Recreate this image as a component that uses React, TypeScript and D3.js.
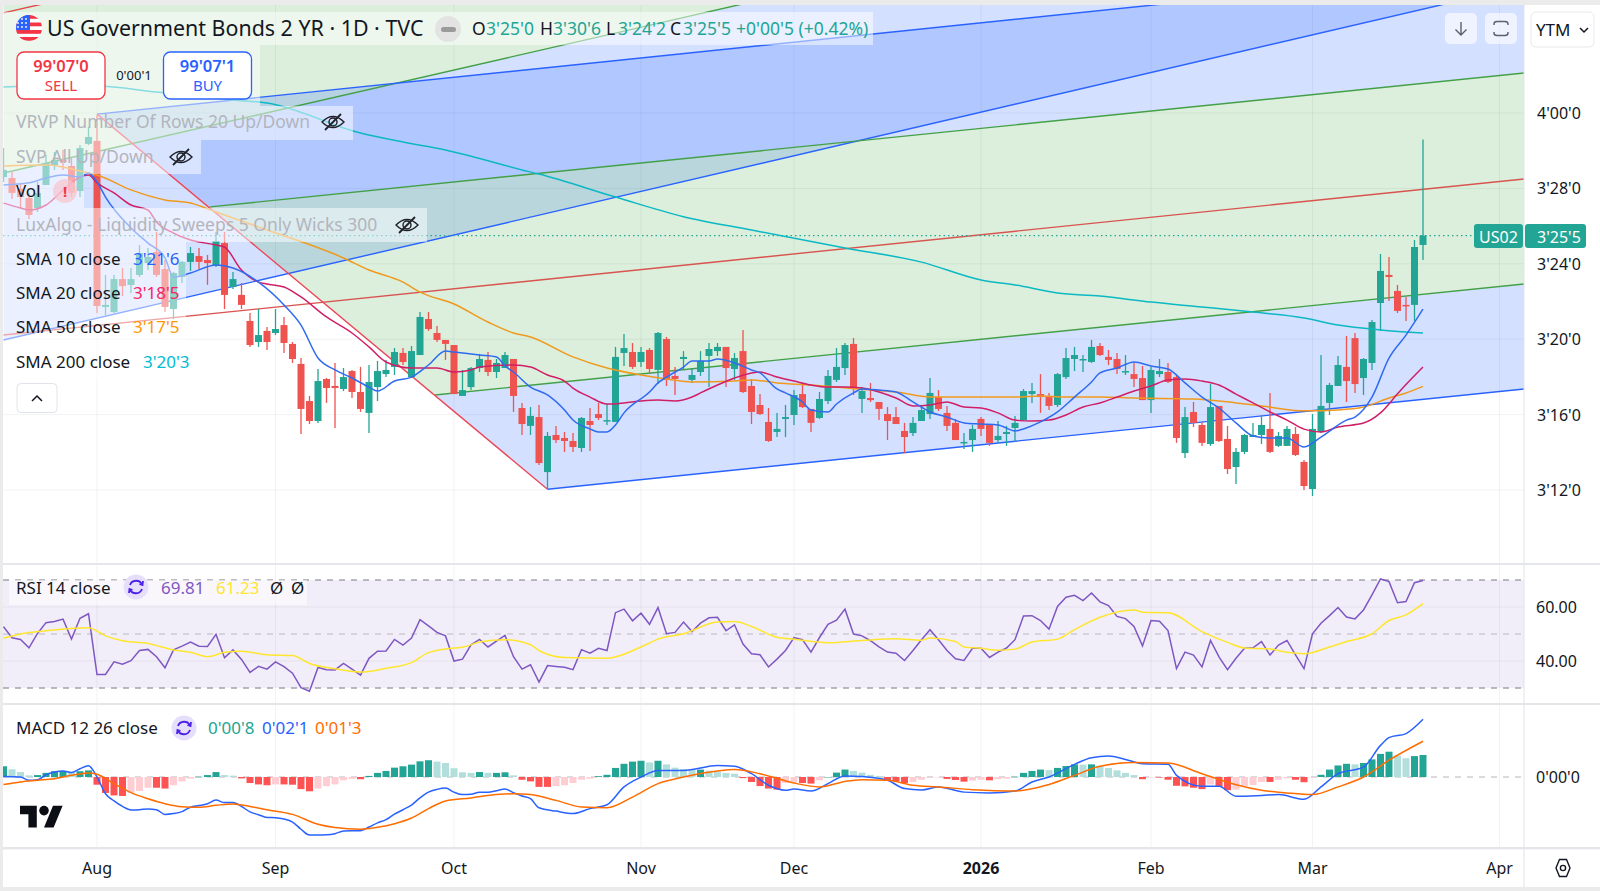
import React from 'react';
import * as d3 from 'd3';

// prices are in 32nds above 3, so 25.5 reads 3'25'5
const opens = [
  28.60,28.55,27.97,27.49,26.96,28.18,29.24,29.51,29.19,27.86,
  30.36,30.52,21.71,21.44,23.19,22.88,23.41,24.04,24.63,23.72,
  21.60,23.30,24.10,24.41,24.20,23.94,25.10,22.77,22.35,20.97,
  19.85,20.44,20.33,20.75,19.75,18.69,16.72,15.66,17.89,17.52,
  17.36,18.31,17.20,16.09,17.46,18.15,18.53,19.27,17.99,19.16,
  21.07,20.33,19.96,19.69,16.99,17.46,18.47,18.90,18.26,18.47,
  18.95,16.35,15.40,15.87,12.95,14.92,14.76,14.60,14.23,15.66,
  16.03,15.66,15.61,19.27,19.32,18.79,19.43,18.37,20.01,18.05,
  18.95,17.84,18.26,19.11,19.37,19.59,18.42,19.37,17.52,16.51,
  15.61,15.08,15.77,15.98,17.09,16.30,15.82,16.72,17.84,18.47,
  19.75,16.83,16.88,16.67,16.03,15.87,15.13,15.02,15.66,16.03,
  16.93,16.09,15.56,14.50,14.65,15.77,15.45,14.65,14.97,15.29,
  15.71,17.09,17.09,16.93,16.51,17.99,18.95,18.90,18.79,19.64,
  19.06,18.95,18.26,18.15,17.94,16.77,18.15,18.26,17.99,13.96,
  16.14,15.45,14.44,16.46,14.71,13.22,14.02,14.81,14.92,15.24,
  14.34,14.34,14.97,13.49,12.05,15.08,16.62,17.52,18.53,20.06,
  17.94,18.74,21.92,23.41,22.56,21.82,21.82,25.0,
];
const highs = [
  30.14,28.87,28.29,27.76,28.34,29.77,29.93,30.04,29.67,30.30,
  31.26,31.89,23.41,23.41,23.78,23.78,25.00,24.84,25.69,24.20,
  23.57,24.15,24.89,24.84,24.47,25.69,25.69,23.57,22.98,21.39,
  21.60,20.65,21.60,21.18,19.85,19.00,16.99,18.42,17.94,18.74,
  18.47,18.37,18.53,18.63,18.85,18.90,19.53,19.53,19.64,21.44,
  21.44,20.70,19.96,19.69,18.37,18.53,19.22,19.32,18.95,19.32,
  18.95,16.62,16.40,16.51,15.08,15.40,15.08,15.02,15.87,16.35,
  16.62,16.56,19.59,20.28,19.80,19.59,19.53,20.38,20.12,18.53,
  19.37,18.47,19.37,19.80,19.80,19.59,19.27,20.49,17.89,17.09,
  16.35,16.09,16.51,17.30,17.62,16.30,17.20,18.37,19.53,19.80,
  20.06,17.46,17.68,16.67,16.40,16.40,15.56,15.87,16.51,17.94,
  17.30,16.46,15.77,15.02,15.45,15.87,15.45,15.66,15.40,15.92,
  17.36,17.68,18.15,17.15,18.21,19.53,19.59,19.16,19.96,19.80,
  19.43,19.27,19.16,18.74,18.58,18.53,18.95,18.74,18.10,16.40,
  16.67,15.61,17.62,16.46,15.40,14.23,14.97,15.56,15.92,17.15,
  15.08,15.40,15.34,13.59,16.03,19.16,17.68,19.11,20.17,20.33,
  19.00,21.02,24.52,24.36,22.88,22.24,25.26,30.6,
];
const lows = [
  28.34,27.44,26.96,26.38,26.75,28.18,28.98,28.98,27.54,27.54,
  30.30,21.39,21.28,21.39,22.29,22.45,23.30,23.67,23.30,21.44,
  21.07,22.98,23.62,23.72,22.88,23.83,21.60,22.66,21.60,19.59,
  19.59,19.43,20.22,19.27,18.74,14.97,15.50,15.56,16.62,15.29,
  17.25,16.88,16.14,15.02,16.72,17.99,18.10,18.63,17.94,19.16,
  20.44,19.85,18.90,17.09,16.99,17.30,18.26,18.05,17.94,18.47,
  16.14,14.92,14.92,13.33,12.05,14.50,14.02,14.02,14.02,14.07,
  15.71,15.45,15.61,18.58,18.42,18.53,18.21,17.62,17.52,17.04,
  18.37,17.68,18.05,17.46,19.11,17.46,17.84,17.15,15.50,15.98,
  14.55,14.81,14.81,15.45,16.35,15.08,15.77,16.56,17.73,18.10,
  17.04,16.09,16.67,15.71,14.65,15.50,13.96,14.87,15.66,15.77,
  16.19,15.13,14.65,14.18,14.02,14.87,14.34,14.50,14.34,14.55,
  15.66,16.62,16.09,16.24,16.40,17.89,18.31,18.26,18.74,19.11,
  18.63,18.15,18.10,17.46,16.77,16.09,17.99,17.68,14.50,13.70,
  15.34,14.34,14.34,14.55,12.85,12.32,13.91,14.81,14.44,13.96,
  14.28,14.34,13.80,12.00,11.68,15.02,15.98,17.52,16.67,17.15,
  17.04,18.37,20.43,22.03,21.39,20.97,20.97,24.2,
];
const closes = [
  28.98,27.76,27.54,26.59,27.76,29.35,29.51,29.40,27.76,30.14,
  30.73,21.76,21.82,23.19,22.82,23.19,24.57,24.36,23.41,21.71,
  23.51,24.10,24.57,24.10,24.04,25.21,22.35,23.19,21.82,19.69,
  20.22,19.85,20.54,19.80,18.95,16.30,15.66,17.78,17.41,17.41,
  17.99,17.20,16.30,17.73,18.31,18.37,19.32,18.79,19.37,21.18,
  20.54,19.96,19.75,17.09,17.30,18.47,18.95,18.26,18.74,19.16,
  16.99,15.50,15.93,13.43,14.87,14.65,14.60,14.28,15.82,15.45,
  15.82,15.71,19.06,19.53,18.53,19.32,18.42,20.33,17.84,17.89,
  19.06,18.10,18.84,19.48,19.59,18.47,19.00,17.20,16.14,16.03,
  14.60,15.24,15.87,17.04,16.40,15.56,16.83,18.05,18.53,19.69,
  17.36,17.25,16.77,16.30,15.66,15.50,14.81,15.56,16.24,17.15,
  16.30,15.40,14.65,14.55,15.24,15.24,14.50,14.87,15.08,15.56,
  17.25,17.25,16.93,16.46,18.15,19.00,19.16,18.95,19.59,19.16,
  18.90,18.42,18.31,17.89,16.77,18.37,18.31,17.73,14.76,15.87,
  15.56,14.50,16.40,14.60,13.11,14.02,14.92,14.92,15.45,14.02,
  14.87,15.24,13.86,12.21,15.24,16.46,17.57,18.63,17.78,17.62,
  18.95,20.91,23.62,23.30,21.50,21.76,24.89,25.5,
];

// as [bar, value]
const sma10 = [
  [0,28.18],[3,28.3],[5,28.55],[7,28.71],[9,28.60],[10,28.82],[11,28.34],[12,27.54],[15,25.9],[17,25.10],[19,24.31],[20,23.30],
  [22,23.51],[25,23.94],[27,23.78],[30,23.03],[33,21.82],[35,20.75],[37,19.0],[39,18.37],[41,17.94],[43,17.46],[44,17.25],
  [46,17.78],[48,17.99],[50,18.63],[52,19.37],[53,19.32],[56,19.16],[58,19.06],[59,18.58],[60,18.26],[62,17.46],[64,17.04],
  [66,16.24],[67,15.71],[69,15.24],[70,15.08],[71,15.08],[72,15.45],[73,16.09],[76,17.20],[77,17.68],[78,17.99],[80,18.52],
  [81,18.84],[83,18.84],[84,18.95],[86,18.74],[88,18.37],[89,18.21],[91,17.36],[92,17.15],[94,16.67],[95,16.24],[97,16.14],
  [98,16.56],[100,17.15],[101,17.36],[103,17.30],[105,17.20],[107,16.67],[109,16.14],[111,15.87],[113,15.56],[115,15.50],
  [117,15.45],[119,15.13],[120,15.24],[122,15.61],[124,16.14],[126,16.93],[128,17.73],[129,18.21],[131,18.47],[133,18.79],
  [135,18.58],[137,18.42],[139,17.68],[141,16.93],[143,16.35],[145,15.56],[147,14.87],[149,14.76],[151,14.76],[153,14.28],
  [155,14.81],[158,15.71],[159,15.87],[161,16.93],[163,19.0],[165,20.22],[167,21.6],
];
const sma20 = [
  [0,27.22],[2,26.96],[3,26.85],[5,27.12],[7,27.9],[9,28.6],[10,28.71],[11,28.29],[13,27.76],[15,27.12],[17,26.85],[18,26.22],
  [20,25.63],[22,25.26],[25,25.0],[26,24.89],[28,23.67],[30,23.03],[31,22.93],[33,22.77],[35,22.24],[38,21.18],[41,20.33],
  [43,19.59],[45,18.79],[48,18.47],[51,18.47],[53,18.26],[55,18.37],[56,18.52],[60,18.63],[62,18.52],[64,18.10],[66,17.78],
  [67,17.41],[69,16.93],[71,16.56],[73,16.62],[75,16.72],[77,16.77],[79,16.72],[81,16.93],[82,17.15],[84,17.57],[86,17.94],
  [88,18.21],[89,18.26],[91,17.99],[93,17.78],[95,17.57],[97,17.46],[99,17.46],[101,17.41],[103,17.20],[105,16.88],[107,16.46],
  [109,16.51],[111,16.67],[113,16.40],[115,16.35],[117,16.09],[119,15.71],[121,15.66],[123,15.71],[125,15.98],[127,16.40],
  [129,16.62],[131,16.93],[133,17.25],[135,17.52],[137,17.84],[139,17.89],[141,17.78],[143,17.57],[145,17.09],[147,16.62],
  [149,16.14],[151,15.71],[153,15.23],[155,15.08],[157,15.34],[160,15.55],[162,16.09],[164,17.10],[165,17.6],[167,18.53],
];
const sma50 = [
  [0,29.19],[5,29.24],[10,28.82],[11,28.71],[15,27.92],[19,27.39],[22,27.22],[25,26.75],[30,25.95],[40,24.31],[43,23.67],
  [47,23.03],[49,22.5],[53,21.87],[57,20.91],[60,20.33],[62,20.12],[67,19.06],[71,18.47],[75,18.1],[78,17.89],[81,17.73],
  [86,17.78],[88,17.84],[91,17.68],[95,17.57],[98,17.46],[102,17.30],[105,17.2],[109,16.93],[112,16.93],[119,16.93],[122,16.99],
  [125,16.93],[129,16.93],[133,16.88],[140,16.83],[145,16.62],[148,16.46],[153,16.2],[157,16.25],[160,16.40],[163,16.88],
  [165,17.15],[167,17.5],
];
const sma200 = [
  [0,33.38],[5,33.43],[11,33.43],[18,33.11],[27,32.69],[31,32.53],[42,30.94],[47,30.46],[52,30.04],[61,28.98],[63,28.76],[72,27.54],
  [80,26.5],[88,25.79],[99,24.84],[108,24.09],[115,23.14],[119,22.88],[124,22.45],[129,22.29],[135,21.97],[141,21.71],[147,21.44],
  [153,21.13],[157,20.75],[162,20.49],[167,20.33],
];

const rsi = [
  52.7,48.6,48.0,44.9,50.2,54.2,54.6,55.5,48.1,55.8,57.5,35.0,35.0,39.7,38.8,40.1,43.9,44.3,41.6,37.5,
  44.1,45.5,47.0,45.5,45.4,49.9,41.2,44.1,40.6,35.8,38.0,37.0,39.7,37.9,35.5,30.1,28.8,37.6,36.8,36.7,
  39.1,37.0,34.8,41.0,43.6,43.7,48.0,45.9,48.5,55.3,53.0,50.6,49.3,40.0,40.7,46.0,48.0,45.2,47.4,49.5,
  41.6,37.0,38.6,32.2,38.3,38.0,37.7,36.8,44.2,42.9,44.7,43.9,57.9,59.2,54.9,57.7,53.6,59.8,50.1,50.6,
  54.4,50.9,54.0,56.0,56.2,51.2,53.4,46.3,42.7,42.3,37.8,40.7,43.9,48.7,47.9,43.3,48.7,53.6,55.1,59.2,
  50.0,49.3,47.5,45.2,43.3,42.9,40.2,43.9,47.9,51.6,47.9,43.9,40.8,40.2,44.7,44.7,41.3,43.3,44.8,47.9,
  56.7,56.8,55.0,51.8,60.2,63.6,64.3,62.4,65.2,61.9,60.5,56.5,55.7,52.8,45.6,55.0,54.7,51.3,37.2,43.3,
  42.2,37.8,47.6,41.5,36.8,41.0,44.7,44.9,47.2,42.2,45.9,47.6,42.3,37.2,50.1,54.0,56.8,59.8,56.3,55.6,
  58.9,64.5,70.4,69.4,61.6,62.0,69.0,69.81,
];
const rsiMa = [
  [0,48.4],[2,50.0],[5,51.2],[10,52.3],[12,49.3],[14,47.5],[17,46.5],[20,44.1],[22,43.2],[24,41.6],[26,43.2],[28,43.6],[31,42.3],
  [34,42.0],[36,39.1],[39,37.1],[42,35.9],[45,37.3],[48,39.4],[50,43.1],[53,44.8],[54,45.1],[56,47.0],[59,47.9],[62,46.0],[63,43.9],
  [66,41.3],[71,41.0],[75,45.2],[77,48.1],[80,50.1],[84,54.4],[86,54.6],[88,52.8],[91,48.8],[93,48.1],[97,46.8],[101,47.6],[105,48.2],
  [108,47.7],[109,48.5],[112,47.2],[113,45.2],[115,44.7],[117,44.0],[119,44.4],[121,47.0],[124,48.1],[126,51.6],[129,56.2],[133,58.9],
  [134,58.1],[137,57.9],[141,50.9],[144,46.9],[146,44.8],[149,44.4],[151,43.2],[153,42.7],[156,45.2],[158,47.2],[161,50.1],[163,55],
  [165,57.1],[167,61.23],
];

const macdHist = [
  .39,.28,.18,.06,.07,.15,.21,.22,.16,.21,.24,-.28,-.58,-.67,-.69,-.57,-.51,-.39,-.39,-.42,
  -.30,-.16,-.06,.01,.07,.18,.07,.05,-.05,-.22,-.27,-.30,-.27,-.27,-.28,-.44,-.52,-.42,-.33,-.27,
  -.12,-.07,-.08,.04,.15,.22,.34,.39,.45,.57,.61,.56,.51,.32,.17,.15,.18,.15,.15,.17,
  .06,-.10,-.16,-.36,-.36,-.33,-.30,-.22,-.10,-.06,.03,.08,.33,.48,.56,.59,.53,.59,.46,.34,
  .29,.27,.27,.23,.18,.15,.12,-.04,-.18,-.33,-.42,-.46,-.22,-.18,-.22,-.24,-.12,0,.16,.27,
  .22,.16,.08,.04,-.12,-.15,-.22,-.18,-.10,-.02,-.01,-.07,-.11,-.17,-.13,-.10,-.12,-.08,-.06,.01,
  .15,.22,.27,.25,.33,.40,.46,.45,.46,.39,.33,.24,.15,.07,-.08,-.01,-.02,-.10,-.32,-.34,
  -.39,-.44,-.27,-.36,-.48,-.46,-.32,-.29,-.18,-.18,-.10,-.05,-.10,-.19,-.01,.08,.27,.42,.48,.46,
  .51,.64,.84,.92,.78,.68,.76,.80,
];
const macdLine = [
  [0,.02],[2,0],[3,-.12],[4,-.10],[5,.08],[6,.18],[7,.22],[8,.16],[9,.30],[10,.41],[11,0],[12,-.61],[13,-.87],[14,-1.07],[15,-1.20],
  [16,-1.19],[17,-1.16],[18,-1.19],[19,-1.36],[20,-1.33],[21,-1.26],[22,-1.10],[23,-1.04],[24,-.97],[25,-.84],[26,-.93],[27,-.93],
  [28,-1.07],[29,-1.27],[30,-1.37],[31,-1.47],[32,-1.48],[33,-1.53],[34,-1.64],[35,-1.90],[36,-2.11],[37,-2.11],[38,-2.10],[39,-2.06],
  [40,-1.96],[41,-1.95],[42,-1.95],[43,-1.82],[44,-1.67],[45,-1.55],[46,-1.35],[47,-1.19],[48,-1.02],[49,-.76],[50,-.55],[51,-.45],
  [52,-.40],[53,-.55],[54,-.64],[55,-.63],[56,-.55],[57,-.55],[58,-.50],[59,-.44],[60,-.57],[61,-.69],[62,-.79],[63,-1.12],[65,-1.24],
  [67,-1.33],[69,-1.15],[71,-1.01],[73,-.36],[75,0],[77,.24],[80,.24],[84,.42],[86,.39],[88,.12],[90,-.30],[92,-.48],[93,-.44],[95,-.51],
  [97,-.24],[99,.04],[101,.02],[104,-.12],[106,-.42],[108,-.47],[110,-.36],[113,-.55],[116,-.58],[119,-.51],[121,-.18],[123,0],[126,.46],
  [128,.70],[130,.76],[132,.64],[134,.48],[137,.46],[138,.06],[141,-.34],[143,-.34],[145,-.70],[148,-.67],[150,-.64],[153,-.81],[155,-.36],
  [157,.12],[160,.36],[162,1.15],[163,1.43],[165,1.58],[167,2.1],
];
const macdSignal = [
  [0,-.27],[2,-.18],[4,-.12],[6,-.06],[8,.06],[10,.15],[11,.10],[13,-.24],[15,-.57],[17,-.79],[19,-.97],[21,-1.08],[23,-1.10],[25,-1.03],
  [27,-.98],[29,-1.07],[31,-1.19],[34,-1.36],[37,-1.72],[39,-1.84],[42,-1.90],[44,-1.83],[46,-1.70],[48,-1.49],[50,-1.15],[52,-.87],[55,-.76],
  [58,-.64],[60,-.61],[62,-.64],[65,-.85],[68,-1.09],[71,-1.12],[74,-.73],[77,-.24],[80,0],[84,.22],[86,.27],[89,.12],[93,-.22],[96,-.36],
  [99,-.16],[101,-.10],[104,-.12],[107,-.30],[110,-.36],[114,-.46],[119,-.51],[123,-.27],[126,.06],[129,.39],[133,.53],[137,.51],[141,.12],
  [145,-.28],[148,-.48],[151,-.58],[154,-.64],[157,-.36],[160,0],[163,.61],[167,1.3],
];

// drawn tools, as [bar, price]
const forkTop = [[11,31.94],[178.9,39.76]];
const forkInnerUp = [[24.3,27.02],[178.9,34.12]];
const forkMedian = [[0,20.22],[178.9,28.5]];
const forkInnerDown = [[50.76,17.04],[178.9,22.93]];
const forkBottom = [[64,12.04],[178.9,17.36]];
const forkHandle = [[11,31.94],[64,12.04]];
const steepLow = [[0,19.96],[178.9,38.76]];
const steepInner = [[0,28.82],[178.9,47.26]];
const steepMedian = [[0,37.31],[178.9,55.76]];
const steepCeiling = [[178.9,70],[0,70]];

const priceTicks = [12,16,20,24,28,32];
const priceLabels = ["3'12'0","3'16'0","3'20'0","3'24'0","3'28'0","4'00'0"];
const rsiTicks = [60,40];
const rsiBands = [70,50,30];
const monthBars = [11,32,53,75,93,115,135,154,176];
const monthLabels = ['Aug','Sep','Oct','Nov','Dec','2026','Feb','Mar','Apr'];

const font = '"Noto Sans", sans-serif';
const UP = '#22a594';
const DOWN = '#ef5350';
const BLUE = '#2962ff';
const GREEN = '#4caf50';
const PANE_R = 1524;

const x = d3.scaleLinear().domain([0, 176]).range([3.5, 1499.5]);
const y = d3.scaleLinear().domain([12, 32]).range([490, 113]);
const yRsi = d3.scaleLinear().domain([30, 70]).range([688, 580]);
const yMacd = d3.scaleLinear().domain([0, 1]).range([777, 749.5]);

const priceLine = d3.line<number[]>().x(d => x(d[0])).y(d => y(d[1]));
const smaLine = d3.line<number[]>().x(d => x(d[0])).y(d => y(d[1])).curve(d3.curveMonotoneX);
const rsiLine = d3.line<number[]>().x(d => x(d[0])).y(d => yRsi(d[1]));
const rsiMaLine = d3.line<number[]>().x(d => x(d[0])).y(d => yRsi(d[1])).curve(d3.curveMonotoneX);
const macdPath = d3.line<number[]>().x(d => x(d[0])).y(d => yMacd(d[1])).curve(d3.curveMonotoneX);

const band = (a: number[][], b: number[][]) => priceLine([...a, ...[...b].reverse()]) + 'Z';

const EyeOff = ({ cx, cy }: { cx: number; cy: number }) => (
  <g transform={`translate(${cx},${cy})`} fill="none" stroke="#1f2128" strokeWidth={1.4}>
    <path d="M-11,0 Q0,-11 11,0 Q0,11 -11,0Z" />
    <circle r={4} />
    <path d="M-8,8 L8,-8" strokeWidth={1.8} />
  </g>
);

const Refresh = ({ cx, cy }: { cx: number; cy: number }) => (
  <g transform={`translate(${cx},${cy})`}>
    <circle r={12.5} fill="#e6dffb" />
    <g fill="none" stroke="#4a1fe8" strokeWidth={1.8}>
      <path d="M-6,-2 A6.5,6.5 0 0 1 6,-2.5" />
      <path d="M6,2 A6.5,6.5 0 0 1 -6,2.5" />
      <path d="M3.5,-3 L6.5,-2 L7,-6" />
      <path d="M-3.5,3 L-6.5,2 L-7,6" />
    </g>
  </g>
);

const LegendRow = ({ label, value, color, vx, base }: { label: string; value: string; color: string; vx: number; base: number }) => (
  <g fontSize={17}>
    <text x={16} y={base} fill="#131722">{label}</text>
    <text x={vx} y={base} fill={color}>{value}</text>
  </g>
);

export default function App() {
  const bars = d3.range(opens.length);
  return (
    <svg width={1600} height={891} style={{ position: 'absolute', left: 0, top: 0, background: '#fff' }} fontFamily={font}>
      <defs>
        <clipPath id="pane"><rect x={3} y={5} width={PANE_R - 3} height={559} /></clipPath>
        <clipPath id="low"><rect x={3} y={564} width={PANE_R - 3} height={284} /></clipPath>
      </defs>

      <g clipPath="url(#pane)">
        <path d={band(steepLow, steepInner)} fill={BLUE} fillOpacity={0.2} />
        <path d={priceLine([...steepInner, ...steepCeiling]) + 'Z'} fill={GREEN} fillOpacity={0.2} />
        <path d={band(forkTop, forkInnerUp)} fill={BLUE} fillOpacity={0.2} />
        <path d={band(forkInnerUp, forkInnerDown)} fill={GREEN} fillOpacity={0.2} />
        <path d={band(forkInnerDown, forkBottom)} fill={BLUE} fillOpacity={0.2} />

        {priceTicks.map(t => <line key={t} x1={3} x2={PANE_R} y1={y(t)} y2={y(t)} stroke="#2a2e39" strokeOpacity={0.06} />)}
        {monthBars.map(b => <line key={b} x1={x(b)} x2={x(b)} y1={5} y2={564} stroke="#2a2e39" strokeOpacity={0.06} />)}

        <g fill="none" strokeWidth={1.4}>
          <path d={priceLine(steepLow)!} stroke={BLUE} />
          <path d={priceLine(steepInner)!} stroke="#43a047" />
          <path d={priceLine(steepMedian)!} stroke="#e0474c" />
          <path d={priceLine(forkTop)!} stroke={BLUE} />
          <path d={priceLine(forkInnerUp)!} stroke="#43a047" />
          <path d={priceLine(forkMedian)!} stroke="#d9534f" />
          <path d={priceLine(forkInnerDown)!} stroke="#43a047" />
          <path d={priceLine(forkBottom)!} stroke={BLUE} />
          <path d={priceLine(forkHandle)!} stroke="#e8495a" />
        </g>

        <line x1={3} x2={1474} y1={y(closes[closes.length - 1])} y2={y(closes[closes.length - 1])} stroke={UP} strokeDasharray="1.5 3" strokeWidth={1.2} />

        {bars.map(i => {
          const up = closes[i] >= opens[i];
          const c = up ? UP : DOWN;
          const top = y(Math.max(opens[i], closes[i]));
          const bot = y(Math.min(opens[i], closes[i]));
          return (
            <g key={i}>
              <line x1={x(i)} x2={x(i)} y1={y(highs[i])} y2={y(lows[i])} stroke={c} strokeWidth={1.3} />
              <rect x={x(i) - 3.5} y={top} width={7} height={Math.max(bot - top, 1.5)} fill={c} />
            </g>
          );
        })}

        <g fill="none" strokeWidth={1.5} strokeLinejoin="round">
          <path d={smaLine(sma200)!} stroke="#0cb8c4" />
          <path d={smaLine(sma50)!} stroke="#ef9a1e" />
          <path d={smaLine(sma20)!} stroke="#d01f66" />
          <path d={smaLine(sma10)!} stroke="#2f6bf0" />
        </g>
      </g>

      {/* legend backing, the chart shows through it */}
      <g fill="#fff" fillOpacity={0.5}>
        <rect x={3} y={12} width={870} height={33} />
        <rect x={3} y={45} width={257} height={61} />
        <rect x={3} y={106} width={350} height={34} />
        <rect x={3} y={140} width={198} height={34} />
        <rect x={3} y={174} width={81} height={34} />
        <rect x={3} y={208} width={424} height={34} />
        <rect x={3} y={242} width={183} height={34} />
        <rect x={3} y={276} width={183} height={34} />
        <rect x={3} y={310} width={183} height={34} />
        <rect x={3} y={344} width={192} height={34} />
      </g>

      {/* flag */}
      <g>
        <clipPath id="flag"><circle cx={29} cy={28} r={13} /></clipPath>
        <g clipPath="url(#flag)">
          <rect x={16} y={15} width={26} height={26} fill="#fff" />
          {[15, 22.5, 30, 37].map(s => <rect key={s} x={16} y={s} width={26} height={3.8} fill="#f23645" />)}
          <rect x={16} y={15} width={14} height={15} fill="#2962ff" />
          {[19, 23, 27].flatMap(a => [18, 22, 26].map(b => <circle key={`${a}${b}`} cx={b} cy={a} r={0.9} fill="#fff" />))}
        </g>
      </g>
      <text x={47} y={36} fontSize={21.4} fill="#131722">US Government Bonds 2 YR · 1D · TVC</text>
      <circle cx={448} cy={29} r={13} fill="#e3e3e3" />
      <rect x={441} y={27} width={15} height={5} rx={2.5} fill="#9a9a9a" />
      <g fontSize={17.5}>
        <text x={472} y={35} fill="#131722">O</text><text x={486} y={35} fill={UP}>3'25'0</text>
        <text x={540} y={35} fill="#131722">H</text><text x={553} y={35} fill={UP}>3'30'6</text>
        <text x={606} y={35} fill="#131722">L</text><text x={618} y={35} fill={UP}>3'24'2</text>
        <text x={670} y={35} fill="#131722">C</text><text x={683} y={35} fill={UP}>3'25'5</text>
        <text x={736} y={35} fill={UP}>+0'00'5 (+0.42%)</text>
      </g>

      {/* sell and buy */}
      <rect x={17} y={52} width={88} height={47} rx={7} fill="#fff" stroke="#f23645" strokeWidth={1.3} />
      <rect x={163.5} y={52} width={88} height={47} rx={7} fill="#fff" stroke="#2962ff" strokeWidth={1.3} />
      <g textAnchor="middle">
        <text x={61} y={72} fontSize={16.5} fontWeight={600} fill="#f23645">99'07'0</text>
        <text x={61} y={91} fontSize={15} fill="#f23645">SELL</text>
        <text x={134} y={80} fontSize={13} fill="#131722">0'00'1</text>
        <text x={207.5} y={72} fontSize={16.5} fontWeight={600} fill="#2962ff">99'07'1</text>
        <text x={207.5} y={91} fontSize={15} fill="#2962ff">BUY</text>
      </g>

      <g fontSize={17.5} fill="#b2b5be">
        <text x={16} y={128}>VRVP Number Of Rows 20 Up/Down</text>
        <text x={16} y={163}>SVP All Up/Down</text>
        <text x={16} y={231}>LuxAlgo - Liquidity Sweeps 5 Only Wicks 300</text>
      </g>
      <EyeOff cx={333} cy={122} />
      <EyeOff cx={181} cy={157} />
      <EyeOff cx={407} cy={225} />
      <text x={16} y={197} fontSize={17} fill="#131722">Vol</text>
      <circle cx={65} cy={191} r={12} fill="#f7c5cf" fillOpacity={0.7} />
      <text x={65} y={197} fontSize={15} fontWeight={700} textAnchor="middle" fill="#f23645">!</text>

      <LegendRow label="SMA 10 close" value="3'21'6" color="#2962ff" vx={133} base={265} />
      <LegendRow label="SMA 20 close" value="3'18'5" color="#f7245f" vx={133} base={299} />
      <LegendRow label="SMA 50 close" value="3'17'5" color="#ff9800" vx={133} base={333} />
      <LegendRow label="SMA 200 close" value="3'20'3" color="#00bcd4" vx={143} base={368} />

      <rect x={17} y={383.5} width={40} height={29} rx={4} fill="#fff" stroke="#e0e3eb" />
      <path d="M32,401 L37,396 L42,401" fill="none" stroke="#131722" strokeWidth={1.5} />

      {/* top right buttons */}
      <rect x={1445} y={13} width={32} height={31} rx={5} fill="#fff" fillOpacity={0.6} />
      <rect x={1485} y={13} width={32} height={31} rx={5} fill="#fff" fillOpacity={0.6} />
      <path d="M1461,22 V35 M1455.5,29.5 L1461,35 L1466.5,29.5" fill="none" stroke="#5d606b" strokeWidth={1.4} />
      <path d="M1494,25 V24 Q1494,21.5 1497,21.5 H1505 Q1508,21.5 1508,24 V25 M1494,32 V33 Q1494,35.5 1497,35.5 H1505 Q1508,35.5 1508,33 V32" fill="none" stroke="#5d606b" strokeWidth={1.4} />

      {/* lower panes */}
      <g clipPath="url(#low)">
        <rect x={3} y={yRsi(70)} width={PANE_R - 3} height={yRsi(30) - yRsi(70)} fill="#7e57c2" fillOpacity={0.1} />
        {rsiTicks.map(t => <line key={t} x1={3} x2={PANE_R} y1={yRsi(t)} y2={yRsi(t)} stroke="#2a2e39" strokeOpacity={0.06} />)}
        {monthBars.map(b => <line key={b} x1={x(b)} x2={x(b)} y1={564} y2={848} stroke="#2a2e39" strokeOpacity={0.06} />)}
        {rsiBands.map(t => (
          <line key={t} x1={3} x2={PANE_R} y1={yRsi(t)} y2={yRsi(t)} stroke={t === 50 ? '#b8b8be' : '#787b86'} strokeDasharray="6 6" strokeWidth={1.2} />
        ))}
        <path d={rsiLine(rsi.map((r, i) => [i, r]))!} fill="none" stroke="#7e57c2" strokeWidth={1.5} />
        <path d={rsiMaLine(rsiMa)!} fill="none" stroke="#ffe62e" strokeWidth={1.5} />

        <line x1={3} x2={PANE_R} y1={yMacd(0)} y2={yMacd(0)} stroke="#b8b8be" strokeDasharray="6 6" strokeWidth={1.2} />
        {macdHist.map((h, i) => {
          const prev = i > 0 ? macdHist[i - 1] : h;
          const fill = h >= 0 ? (h >= prev ? '#22a594' : '#b2dfdb') : (h <= prev ? '#ff5252' : '#ffcdd2');
          const a = yMacd(Math.max(h, 0));
          const b = yMacd(Math.min(h, 0));
          return <rect key={i} x={x(i) - 3.5} y={a} width={7} height={Math.max(b - a, 0.5)} fill={fill} />;
        })}
        <path d={macdPath(macdLine)!} fill="none" stroke={BLUE} strokeWidth={1.5} />
        <path d={macdPath(macdSignal)!} fill="none" stroke="#ff6d00" strokeWidth={1.5} />
      </g>

      <rect x={9} y={580} width={298} height={25} fill="#fff" fillOpacity={0.5} />
      <text x={16} y={594} fontSize={17} fill="#131722">RSI 14 close</text>
      <Refresh cx={136} cy={587} />
      <g fontSize={17}>
        <text x={161} y={594} fill="#7e57c2">69.81</text>
        <text x={216} y={594} fill="#ffe62e">61.23</text>
        <text x={270} y={594} fill="#131722">Ø</text>
        <text x={291} y={594} fill="#131722">Ø</text>
      </g>
      <text x={16} y={734} fontSize={17} fill="#131722">MACD 12 26 close</text>
      <Refresh cx={184} cy={728} />
      <g fontSize={17}>
        <text x={208} y={734} fill="#22a594">0'00'8</text>
        <text x={262} y={734} fill="#2962ff">0'02'1</text>
        <text x={315} y={734} fill="#ff6d00">0'01'3</text>
      </g>

      {/* logo */}
      <g transform="translate(20,801) scale(1.2)" fill="#0c0e15">
        <path d="M14 22H7V11H0V4h14v18zM28 22h-8l7.5-18h8L28 22z" />
        <circle cx={20} cy={8} r={4} />
      </g>

      {/* frame */}
      <g fill="#ebebeb">
        <rect x={0} y={0} width={1600} height={5} />
        <rect x={0} y={0} width={3} height={891} />
        <rect x={0} y={887} width={1600} height={4} />
      </g>
      <g fill="#e4e6ea">
        <rect x={3} y={563} width={1597} height={2} />
        <rect x={3} y={703} width={1597} height={2} />
        <rect x={3} y={847} width={1597} height={2.4} />
      </g>
      <line x1={PANE_R} x2={PANE_R} y1={5} y2={887} stroke="#e0e3eb" />

      {/* right axis */}
      <g fontSize={16} fill="#131722" dominantBaseline="central">
        {priceTicks.map((t, i) => <text key={t} x={1537} y={y(t)}>{priceLabels[i]}</text>)}
        {rsiTicks.map(t => <text key={t} x={1536} y={yRsi(t)}>{t.toFixed(2)}</text>)}
        <text x={1536} y={yMacd(0)}>0'00'0</text>
      </g>
      <rect x={1474} y={224} width={49} height={24} rx={3} fill={UP} />
      <rect x={1525} y={224} width={61} height={24} rx={3} fill={UP} />
      <text x={1498.5} y={236.5} fontSize={16} fill="#fff" textAnchor="middle" dominantBaseline="central">US02</text>
      <text x={1537} y={236.5} fontSize={16} fill="#fff" dominantBaseline="central">3'25'5</text>
      <rect x={1531} y={12} width={63} height={35} rx={5} fill="#fff" stroke="#e8e9ec" />
      <text x={1536} y={36} fontSize={17} fill="#131722">YTM</text>
      <path d="M1580,28 L1584,32 L1588,28" fill="none" stroke="#131722" strokeWidth={1.5} />

      {/* time axis */}
      <g fontSize={16} fill="#131722" textAnchor="middle" dominantBaseline="central">
        {monthBars.map((b, i) => (
          <text key={b} x={x(b)} y={868} fontWeight={monthLabels[i] === '2026' ? 700 : 400}>{monthLabels[i]}</text>
        ))}
      </g>
      <path d="M1556,868 L1559.5,859.5 H1566.5 L1570,868 L1566.5,876.5 H1559.5Z" fill="none" stroke="#131722" strokeWidth={1.4} />
      <circle cx={1563} cy={868} r={2.6} fill="none" stroke="#131722" strokeWidth={1.4} />
    </svg>
  );
}
